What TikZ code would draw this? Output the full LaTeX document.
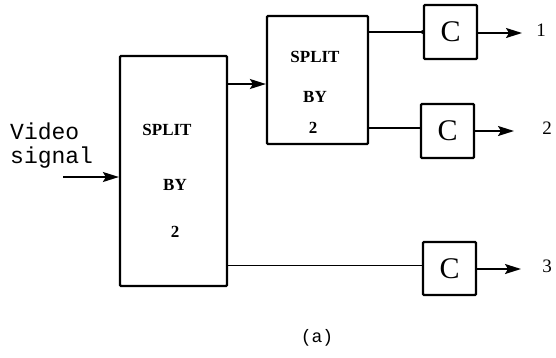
\documentclass[tikz,border=0pt]{standalone}
\usepackage{fontspec}
\setmainfont{Liberation Serif}
\setmonofont{Liberation Mono}
\usetikzlibrary{arrows.meta}
\begin{document}
\begin{tikzpicture}[x=1pt,y=-1pt,
  blk/.style={draw,line width=2.2pt,rounded corners=1pt,inner sep=0pt},
  wire/.style={line width=1.7pt},
  arr/.style={wire,-{Stealth[length=16pt,width=10pt,inset=3pt]}},
  btxt/.style={font=\fontsize{17}{19}\selectfont\bfseries,inner sep=0pt},
  ctxt/.style={font=\fontsize{30}{32}\selectfont,inner sep=0pt},
  ltxt/.style={font=\fontsize{19}{21}\selectfont,inner sep=0pt},
  mtxt/.style={font=\fontsize{23}{26}\selectfont\ttfamily,inner sep=0pt}]
\useasboundingbox (0,0) rectangle (556,357);
% boxes
\node[blk,minimum width=107pt,minimum height=230pt] (big) at (173.5,171) {};
\node[blk,minimum width=101pt,minimum height=128pt] (small) at (317.5,80) {};
\node[blk,minimum width=53pt,minimum height=54pt] (c1) at (450.5,32) {};
\node[blk,minimum width=53pt,minimum height=54pt] (c2) at (447.5,131) {};
\node[blk,minimum width=53pt,minimum height=53pt] (c3) at (449.5,268.5) {};
% box texts
\node[btxt] (bs) at (167,130) {SPLIT};
\node[btxt] (bb) at (175,185) {BY};
\node[btxt] (b2) at (175,232) {2};
\node[btxt] (ss) at (315,57) {SPLIT};
\node[btxt] (sb) at (315,97) {BY};
\node[btxt] (s2) at (313,128) {2};
\node[ctxt] (ct1) at (c1) {C};
\node[ctxt] (ct2) at (c2) {C};
\node[ctxt] (ct3) at (c3) {C};
% input
\node[mtxt,anchor=west] (v1) at (10,131) {Video};
\node[mtxt,anchor=west] (v2) at (10,158) {signal};
\coordinate (in) at (63,177);
\draw[arr] (in) -- (in -| big.west);
% big -> small
\coordinate (y1) at (0,84);
\draw[arr] (big.east |- y1) -- (small.west |- y1);
% small -> C1, C2
\draw[wire] (small.east |- c1.west) -- (c1.west);
\fill (c1.west) circle (2pt);
\coordinate (y2) at (0,128);
\draw[wire] (small.east |- y2) -- (c2.west |- y2);
% big -> C3
\coordinate (y3) at (0,265.5);
\draw[wire] (big.east |- y3) -- (c3.west |- y3);
% outputs
\coordinate (o1) at (522,33);
\coordinate (o2) at (514,131);
\coordinate (o3) at (521,269);
\draw[arr] (c1.east |- o1) -- (o1);
\draw[arr] (c2.east |- o2) -- (o2);
\draw[arr] (c3.east |- o3) -- (o3);
\node[ltxt] (l1) at (541,30) {1};
\node[ltxt] (l2) at (547,128) {2};
\node[ltxt] (l3) at (547,266) {3};
\node[mtxt,font=\fontsize{18}{20}\selectfont\ttfamily] (cap) at (317,338) {(a)};
\end{tikzpicture}
\end{document}
